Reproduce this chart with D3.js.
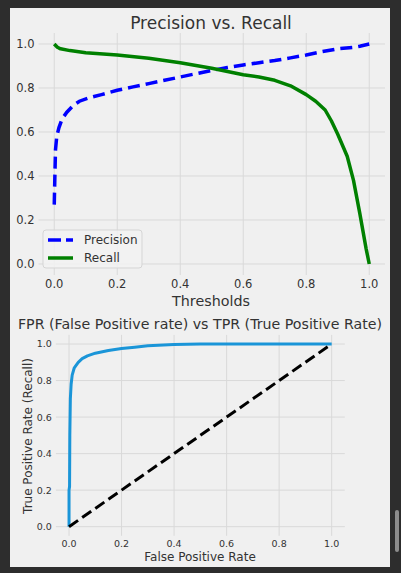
<!DOCTYPE html>
<html>
<head>
<meta charset="utf-8">
<script src="https://cdn.jsdelivr.net/npm/d3@7"></script>
<style>
  html, body { margin: 0; padding: 0; background: #2d2d2d; }
  svg { display: block; }
  text { font-family: "DejaVu Sans", sans-serif; fill: #333; }
</style>
</head>
<body>
<svg id="chart" width="401" height="573"></svg>
<script>
// ---- data ----
const thresholds = [0, 0.002, 0.004, 0.008, 0.015, 0.025, 0.04, 0.06, 0.08, 0.11, 0.15, 0.2, 0.25, 0.3, 0.35, 0.4, 0.45, 0.5, 0.55, 0.6, 0.65, 0.7, 0.75, 0.8, 0.85, 0.9, 0.95, 0.97, 1.0];
const precision  = [0.27, 0.4, 0.52, 0.58, 0.62, 0.66, 0.69, 0.72, 0.74, 0.755, 0.77, 0.79, 0.805, 0.82, 0.835, 0.85, 0.865, 0.88, 0.893, 0.905, 0.915, 0.925, 0.937, 0.95, 0.965, 0.978, 0.985, 0.99, 1.0];
const recallThresholds = [0, 0.01, 0.02, 0.05, 0.1, 0.2, 0.3, 0.4, 0.5, 0.55, 0.6, 0.65, 0.7, 0.75, 0.8, 0.83, 0.86, 0.88, 0.9, 0.93, 0.95, 0.97, 0.99, 1.0];
const recall = [1.0, 0.985, 0.978, 0.97, 0.96, 0.95, 0.935, 0.915, 0.89, 0.875, 0.86, 0.85, 0.835, 0.81, 0.77, 0.74, 0.70, 0.65, 0.59, 0.49, 0.38, 0.23, 0.07, 0.0];
const fpr = [0, 0, 0.002, 0.003, 0.005, 0.008, 0.012, 0.02, 0.035, 0.05, 0.07, 0.1, 0.15, 0.2, 0.25, 0.3, 0.4, 0.5, 1.0];
const tpr = [0, 0.2, 0.22, 0.5, 0.7, 0.78, 0.83, 0.87, 0.9, 0.92, 0.935, 0.95, 0.965, 0.975, 0.982, 0.99, 0.997, 1.0, 1.0];
const diagX = [0, 1];
const diagY = [0, 1];
const tickValues = [0, 0.2, 0.4, 0.6, 0.8, 1.0];
const titles = ["Precision vs. Recall", "FPR (False Positive rate) vs TPR (True Positive Rate)"];
const xLabels = ["Thresholds", "False Positive Rate"];
const yLabels = [null, "True Positive Rate (Recall)"];
const legendLabels = ["Precision", "Recall"];

const svg = d3.select("#chart");
const gridColor = "#d9d9d9";

// panel
svg.append("rect").attr("x", 10).attr("y", 8).attr("width", 380).attr("height", 559).attr("fill", "#f0f0f0");
// scrollbar
svg.append("rect").attr("x", 395).attr("y", 510).attr("width", 4).attr("height", 42).attr("rx", 2).attr("fill", "#8c8c8c");

function drawGrid(g, x, y, fontSize, labelGapY, xLabelY) {
  const [x0, x1] = x.range();
  const [y0, y1] = y.range();
  tickValues.forEach(v => {
    g.append("line").attr("x1", x(v)).attr("x2", x(v)).attr("y1", y1).attr("y2", y0)
      .attr("stroke", gridColor).attr("stroke-width", 1);
    g.append("line").attr("x1", x0).attr("x2", x1).attr("y1", y(v)).attr("y2", y(v))
      .attr("stroke", gridColor).attr("stroke-width", 1);
  });
  const fmt = d3.format(".1f");
  tickValues.forEach(v => {
    g.append("text").attr("x", x0 - 4).attr("y", y(v)).attr("dy", "0.36em")
      .attr("text-anchor", "end").style("font-size", fontSize + "px").text(fmt(v));
    g.append("text").attr("x", x(v)).attr("y", xLabelY)
      .attr("text-anchor", "middle").style("font-size", fontSize + "px").text(fmt(v));
  });
}

// ---------- top chart ----------
{
  const x = d3.scaleLinear().domain([-0.05, 1.05]).range([38.5, 385]);
  const y = d3.scaleLinear().domain([-0.05, 1.05]).range([275, 33]);
  const g = svg.append("g");
  drawGrid(g, x, y, 11.5, 0, 288);

  const line = d3.line().x(d => x(d[0])).y(d => y(d[1]));
  g.append("path").datum(d3.zip(thresholds, precision)).attr("d", line)
    .attr("fill", "none").attr("stroke", "#0000ff").attr("stroke-width", 3.5)
    .attr("stroke-dasharray", "12,6");
  g.append("path").datum(d3.zip(recallThresholds, recall)).attr("d", line)
    .attr("fill", "none").attr("stroke", "#008000").attr("stroke-width", 3.5)
    .attr("stroke-linejoin", "round");

  g.append("text").attr("x", 211).attr("y", 29).attr("text-anchor", "middle")
    .style("font-size", "17px").text(titles[0]);
  g.append("text").attr("x", 211).attr("y", 306).attr("text-anchor", "middle")
    .style("font-size", "14.3px").text(xLabels[0]);

  // legend
  const lg = g.append("g");
  lg.append("rect").attr("x", 43).attr("y", 230).attr("width", 99).attr("height", 38).attr("rx", 3)
    .attr("fill", "#f2f2f2").attr("fill-opacity", 0.85).attr("stroke", "#d5d5d5");
  lg.append("line").attr("x1", 48).attr("x2", 73).attr("y1", 240).attr("y2", 240)
    .attr("stroke", "#0000ff").attr("stroke-width", 3.5).attr("stroke-dasharray", "13,5");
  lg.append("line").attr("x1", 48).attr("x2", 73).attr("y1", 258).attr("y2", 258)
    .attr("stroke", "#008000").attr("stroke-width", 3.5);
  lg.append("text").attr("x", 84).attr("y", 240).attr("dy", "0.36em").style("font-size", "12px").text(legendLabels[0]);
  lg.append("text").attr("x", 84).attr("y", 258).attr("dy", "0.36em").style("font-size", "12px").text(legendLabels[1]);
}

// ---------- bottom chart ----------
{
  const x = d3.scaleLinear().domain([-0.05, 1.05]).range([55.9, 344.8]);
  const y = d3.scaleLinear().domain([-0.05, 1.05]).range([535.8, 334.9]);
  const g = svg.append("g");
  drawGrid(g, x, y, 9.5, 0, 547);

  const line = d3.line().x(d => x(d[0])).y(d => y(d[1]));
  g.append("path").datum(d3.zip(fpr, tpr)).attr("d", line)
    .attr("fill", "none").attr("stroke", "#1a95d8").attr("stroke-width", 3)
    .attr("stroke-linejoin", "round");
  g.append("path").datum(d3.zip(diagX, diagY)).attr("d", line)
    .attr("fill", "none").attr("stroke", "#000").attr("stroke-width", 3)
    .attr("stroke-dasharray", "11,5");

  g.append("text").attr("x", 200).attr("y", 329).attr("text-anchor", "middle")
    .style("font-size", "14.2px").text(titles[1]);
  g.append("text").attr("x", 200).attr("y", 561).attr("text-anchor", "middle")
    .style("font-size", "12px").text(xLabels[1]);
  g.append("text").attr("transform", "translate(32,436) rotate(-90)").attr("text-anchor", "middle")
    .style("font-size", "12px").text(yLabels[1]);
}
</script>
</body>
</html>
